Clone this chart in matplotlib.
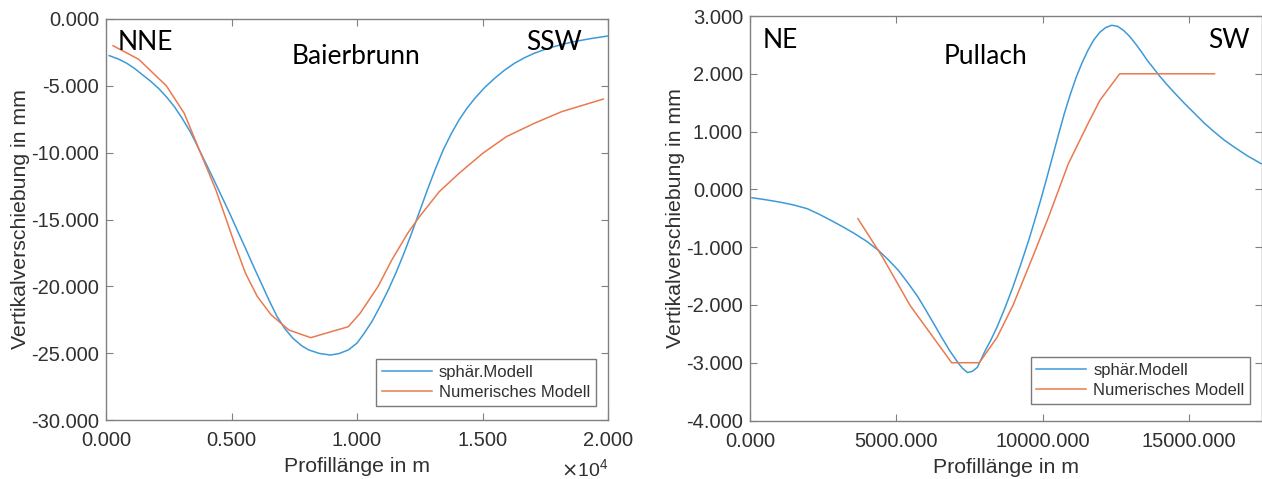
import matplotlib
matplotlib.use("Agg")
import matplotlib.pyplot as plt
from matplotlib.ticker import FuncFormatter, MultipleLocator

# ---------------- data: Baierbrunn ----------------
b_sph_x = [126, 500, 835, 1150, 1465, 1780, 2094, 2410, 2724, 3040, 3354, 3550, 3748,
           4020, 4299, 4610, 4929, 5240, 5559, 5870, 6189, 6500, 6819, 7130, 7449,
           7800, 8079, 8500, 8945, 9300, 9654, 10000, 10283, 10600, 10913, 11230,
           11543, 11860, 12173, 12490, 12803, 13120, 13433, 13750, 14063, 14380,
           14693, 15080, 15480, 15870, 16268, 16660, 17055, 17450, 17843, 18240,
           18630, 19300, 20000]
b_sph_y = [-2.74, -3.0, -3.32, -3.72, -4.19, -4.66, -5.19, -5.83, -6.56, -7.45, -8.43,
           -9.15, -9.93, -10.96, -12.04, -13.28, -14.54, -15.85, -17.16, -18.48,
           -19.78, -21.06, -22.27, -23.18, -23.89, -24.45, -24.76, -25.02, -25.14,
           -25.02, -24.76, -24.25, -23.52, -22.62, -21.52, -20.33, -19.03, -17.58,
           -16.04, -14.41, -12.79, -11.23, -9.80, -8.60, -7.56, -6.68, -5.94, -5.14,
           -4.44, -3.84, -3.32, -2.91, -2.57, -2.30, -2.07, -1.87, -1.70, -1.47, -1.27]
b_num_x = [283, 1307, 2409, 3118, 3748, 4378, 4772, 5165, 5559, 6031, 6583, 7291,
           8157, 9654, 10126, 10835, 11386, 12016, 12488, 13276, 14063, 15008,
           15953, 17055, 18157, 19811]
b_num_y = [-2.0, -3.02, -5.01, -7.06, -9.93, -12.79, -14.9, -17.03, -19.03, -20.77,
           -22.14, -23.27, -23.84, -23.02, -22.01, -20.02, -18.03, -16.04, -14.79,
           -12.92, -11.55, -10.05, -8.80, -7.81, -6.93, -5.99]

# ---------------- data: Pullach ----------------
p_sph_x = [68, 540, 1014, 1490, 1959, 2360, 2770, 3180, 3581, 3990, 4392, 4730, 5068,
           5400, 5743, 6010, 6284, 6550, 6824, 7095, 7250, 7432, 7600, 7770, 8041,
           8240, 8446, 8716, 8986, 9260, 9527, 9730, 9932, 10135, 10338, 10540,
           10743, 10946, 11149, 11350, 11554, 11757, 11959, 12160, 12365, 12570,
           12770, 12970, 13176, 13380, 13581, 13786, 13986, 14256, 14527, 14865,
           15203, 15540, 15878, 16216, 16554, 17000, 17473]
p_sph_y = [-0.145, -0.18, -0.22, -0.27, -0.335, -0.43, -0.537, -0.65, -0.768, -0.90,
           -1.057, -1.22, -1.40, -1.62, -1.864, -2.09, -2.326, -2.56, -2.79, -2.99,
           -3.09, -3.17, -3.15, -3.08, -2.79, -2.60, -2.38, -2.05, -1.69, -1.29,
           -0.88, -0.54, -0.19, 0.18, 0.56, 0.94, 1.31, 1.64, 1.94, 2.19, 2.41, 2.59,
           2.72, 2.80, 2.84, 2.82, 2.75, 2.65, 2.52, 2.38, 2.23, 2.10, 1.97, 1.81,
           1.66, 1.48, 1.31, 1.14, 0.99, 0.85, 0.73, 0.58, 0.444]
p_num_x = [3689, 4527, 5473, 6892, 7838, 8446, 8986, 9662, 10203, 10878, 11554,
           11959, 12635, 15878]
p_num_y = [-0.508, -1.17, -2.01, -3.0, -3.0, -2.56, -2.01, -1.17, -0.48, 0.44, 1.14,
           1.54, 2.0, 2.0]

series_labels = ["sphär.Modell", "Numerisches Modell"]
left_texts = ["NNE", "Baierbrunn", "SSW"]
right_texts = ["NE", "Pullach", "SW"]

BLUE = "#3d9ad8"
ORANGE = "#e97a50"
TXT = "#303030"
SPINE = "#808080"

W, H = 1262, 479
fig = plt.figure(figsize=(W / 100, H / 100), dpi=100)
plt.rcParams["font.family"] = ["Liberation Sans", "DejaVu Sans"]


def fmt_num(v):
    s = "%.3f" % v
    if s == "-0.000":
        s = "0.000"
    return s


def style(ax):
    for sp in ax.spines.values():
        sp.set_color(SPINE)
        sp.set_linewidth(1.0)
    ax.tick_params(direction="in", length=5, width=0.8, color=SPINE,
                   top=True, right=True, labelsize=14.5, labelcolor=TXT)
    ax.tick_params(axis="x", pad=8)
    ax.tick_params(axis="y", pad=5)


LBL = 15.3

# ---------------- left axes ----------------
axL = fig.add_axes([106 / W, (H - 420) / H, 502 / W, 401 / H])
axL.plot(b_sph_x, b_sph_y, color=BLUE, lw=1.1, label=series_labels[0])
axL.plot(b_num_x, b_num_y, color=ORANGE, lw=1.1, label=series_labels[1])
axL.set_xlim(0, 20000)
axL.set_ylim(-30, 0)
axL.xaxis.set_major_locator(MultipleLocator(5000))
axL.yaxis.set_major_locator(MultipleLocator(5))
axL.xaxis.set_major_formatter(FuncFormatter(lambda v, p: fmt_num(v / 1e4)))
axL.yaxis.set_major_formatter(FuncFormatter(lambda v, p: fmt_num(v)))
style(axL)
axL.set_xlabel("Profillänge in m", fontsize=LBL, color=TXT, labelpad=5)
axL.set_ylabel("Vertikalverschiebung in mm", fontsize=LBL, color=TXT, labelpad=1)
fig.text(608 / W, 1 - 469 / H, r"$\times\mathregular{10^{4}}$", ha="right",
         va="center", fontsize=14, color=TXT)
legL = axL.legend(loc="lower right", bbox_to_anchor=(0.976, 0.035), borderaxespad=0,
                  fancybox=False, edgecolor="#7a7a7a", fontsize=12, handlelength=3.0,
                  handletextpad=0.4, borderpad=0.35, labelspacing=0.3, framealpha=1)
legL.get_frame().set_linewidth(1.0)
for t in legL.get_texts():
    t.set_color(TXT)

tf = dict(family=["Lato", "DejaVu Sans"], fontsize=19, color="black", va="center")
fig.text(118 / W, 1 - 43 / H, left_texts[0], ha="left", **tf)
fig.text(356 / W, 1 - 57 / H, left_texts[1], ha="center", **tf)
fig.text(582 / W, 1 - 43 / H, left_texts[2], ha="right", **tf)

# ---------------- right axes ----------------
axR = fig.add_axes([750 / W, (H - 420.5) / H, 512 / W, 404.5 / H])
axR.plot(p_sph_x, p_sph_y, color=BLUE, lw=1.1, label=series_labels[0])
axR.plot(p_num_x, p_num_y, color=ORANGE, lw=1.1, label=series_labels[1])
axR.set_xlim(0, 17500)
axR.set_ylim(-4, 3)
axR.xaxis.set_major_locator(MultipleLocator(5000))
axR.yaxis.set_major_locator(MultipleLocator(1))
axR.xaxis.set_major_formatter(FuncFormatter(lambda v, p: fmt_num(v)))
axR.yaxis.set_major_formatter(FuncFormatter(lambda v, p: fmt_num(v)))
style(axR)
axR.set_xlabel("Profillänge in m", fontsize=LBL, color=TXT, labelpad=5)
axR.set_ylabel("Vertikalverschiebung in mm", fontsize=LBL, color=TXT, labelpad=1)
legR = axR.legend(loc="lower right", bbox_to_anchor=(0.977, 0.041), borderaxespad=0,
                  fancybox=False, edgecolor="#7a7a7a", fontsize=12, handlelength=3.0,
                  handletextpad=0.4, borderpad=0.35, labelspacing=0.3, framealpha=1)
legR.get_frame().set_linewidth(1.0)
for t in legR.get_texts():
    t.set_color(TXT)

fig.text(763 / W, 1 - 40 / H, right_texts[0], ha="left", **tf)
fig.text(986 / W, 1 - 57 / H, right_texts[1], ha="center", **tf)
fig.text(1250 / W, 1 - 40 / H, right_texts[2], ha="right", **tf)

fig.savefig("out.png", dpi=100, facecolor="white")
